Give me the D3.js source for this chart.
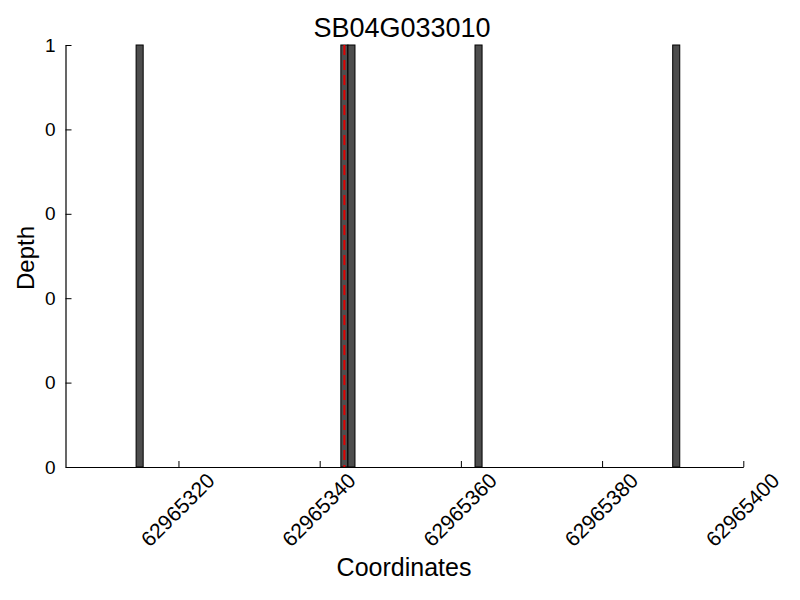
<!DOCTYPE html>
<html>
<head>
<meta charset="utf-8">
<script src="https://cdn.jsdelivr.net/npm/d3@7"></script>
<style>
  body { margin: 0; background: #fff; }
  svg { font-family: "Liberation Sans", Arial, Helvetica, sans-serif; }
</style>
</head>
<body>
<svg id="chart" width="800" height="600"></svg>
<script>
const title = "SB04G033010";
const positions = [62965314, 62965343, 62965344, 62965362, 62965390];
const depths = [1, 1, 1, 1, 1];
const barWidth = 1;
const markerPos = [62965343.5];
const xDomain = [62965304, 62965400];
const yDomain = [0, 1];
const xTicks = [62965320, 62965340, 62965360, 62965380, 62965400];
const yTicks = [0, 0.2, 0.4, 0.6, 0.8, 1];

const bars = positions.map((p, i) => ({ pos: p, depth: depths[i] }));

const svg = d3.select("#chart");
const m = { left: 65.5, right: 743.3, top: 45, bottom: 467 };

const x = d3.scaleLinear().domain(xDomain).range([m.left, m.right]);
const y = d3.scaleLinear().domain(yDomain).range([m.bottom, m.top]);

// bars
svg.append("g").selectAll("rect").data(bars).join("rect")
  .attr("x", d => x(d.pos))
  .attr("y", d => y(d.depth))
  .attr("width", d => x(d.pos + barWidth) - x(d.pos))
  .attr("height", d => y(0) - y(d.depth))
  .attr("fill", "#4d4d4d")
  .attr("stroke", "#000")
  .attr("stroke-width", 1);

// marker line
svg.append("g").selectAll("line").data(markerPos).join("line")
  .attr("x1", d => x(d)).attr("x2", d => x(d))
  .attr("y1", y(1)).attr("y2", y(0))
  .attr("stroke", "#e00000")
  .attr("stroke-width", 2)
  .attr("stroke-dasharray", "10,5");

// x axis
const xAxis = d3.axisBottom(x).tickValues(xTicks).tickSizeInner(-6).tickSizeOuter(0)
  .tickFormat(d3.format("d"));
const gx = svg.append("g").attr("transform", `translate(0,${m.bottom})`).call(xAxis);
gx.select(".domain").attr("stroke", "#000").attr("stroke-width", 1.2);
gx.selectAll(".tick line").attr("stroke", "#000");
gx.selectAll(".tick text")
  .attr("font-size", 21)
  .attr("fill", "#000")
  .attr("text-anchor", "middle")
  .attr("dy", null)
  .attr("y", null)
  .attr("transform", "translate(0,44) rotate(-45)")
  .attr("dominant-baseline", "middle");

// y axis
const yAxis = d3.axisLeft(y).tickValues(yTicks).tickSizeInner(-6).tickSizeOuter(0)
  .tickFormat(d => String(Math.trunc(d + 1e-9)));
const gy = svg.append("g").attr("transform", `translate(${m.left},0)`).call(yAxis);
gy.select(".domain").attr("stroke", "#000").attr("stroke-width", 1.2);
gy.selectAll(".tick line").attr("stroke", "#000");
gy.selectAll(".tick text")
  .attr("font-size", 19)
  .attr("fill", "#000")
  .attr("x", -10);

// title
svg.append("text").attr("x", 402).attr("y", 37)
  .attr("text-anchor", "middle").attr("font-size", 27).text(title);

// axis labels
svg.append("text").attr("x", 404).attr("y", 576)
  .attr("text-anchor", "middle").attr("font-size", 25).text("Coordinates");
svg.append("text").attr("transform", "translate(34,258) rotate(-90)")
  .attr("text-anchor", "middle").attr("font-size", 24).text("Depth");
</script>
</body>
</html>
